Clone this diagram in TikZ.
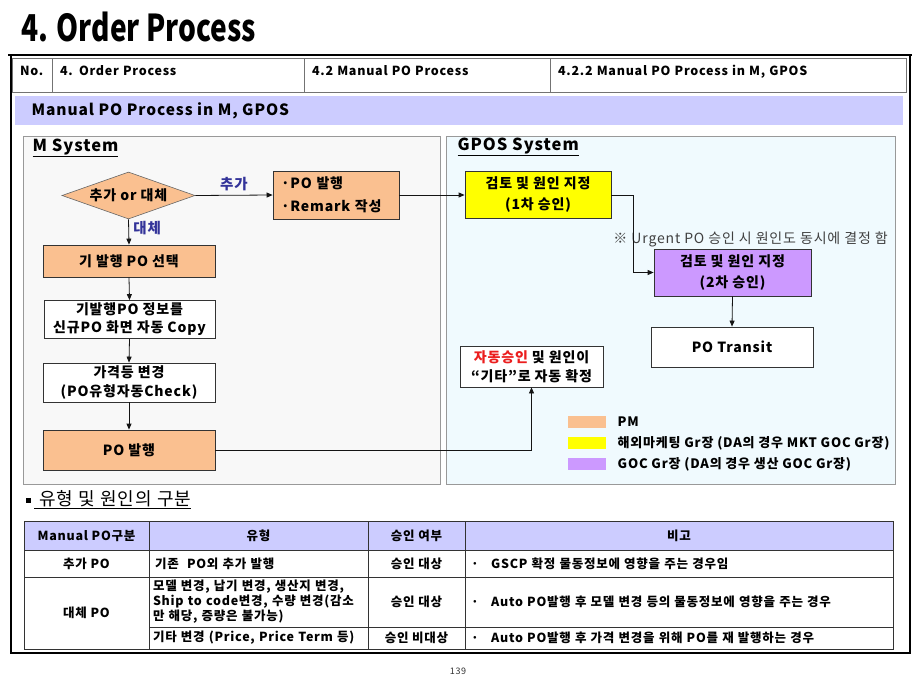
\documentclass[tikz,border=0pt]{standalone}
\usepackage{fontspec}
\setmainfont{Noto Sans CJK KR}[LetterSpace=6]
\newfontfamily\plainfont{Noto Sans CJK KR}
\usepackage{graphicx}
\usepackage{xcolor}
\usepackage{tikz}
\usetikzlibrary{arrows.meta,positioning,shapes.geometric,calc}
\definecolor{figpeach}{RGB}{250,192,144}
\definecolor{figyellow}{RGB}{255,255,0}
\definecolor{figpurple}{RGB}{204,153,255}
\definecolor{figlav}{RGB}{204,204,255}
\definecolor{figmsys}{RGB}{248,248,248}
\definecolor{figgpos}{RGB}{240,250,254}
\definecolor{figblue}{RGB}{51,51,153}
\definecolor{figred}{RGB}{235,30,30}
\definecolor{figline}{RGB}{20,20,20}
\tikzset{
  pmbox/.style={draw=black!80, line width=0.8pt, fill=figpeach, inner sep=2pt, align=center, font=\fontsize{14}{19}\selectfont\bfseries},
  mktbox/.style={draw=black!80, line width=0.8pt, fill=figyellow, inner sep=2pt, align=center, font=\fontsize{14}{21}\selectfont\bfseries},
  gocbox/.style={draw=black!80, line width=0.8pt, fill=figpurple, inner sep=2pt, align=center, font=\fontsize{14}{21}\selectfont\bfseries},
  plainbox/.style={draw=black!80, line width=0.8pt, fill=white, inner sep=2pt, align=center, font=\fontsize{14}{19}\selectfont\bfseries},
  decision/.style={diamond, aspect=2.8, draw=black!60, line width=0.6pt, fill=figpeach, inner sep=0pt, font=\fontsize{14}{16}\selectfont\bfseries},
  panel/.style={draw=black!40, line width=0.8pt},
  hdrcell/.style={draw=black!55, line width=0.9pt, fill=white, inner xsep=8pt, minimum height=34pt, text height=8pt, text depth=6pt, align=left, font=\fontsize{12.5}{15}\selectfont\bfseries},
  tcell/.style={draw=black!80, line width=0.7pt, inner xsep=6pt, inner ysep=0pt, align=center, font=\fontsize{12.5}{15}\selectfont\bfseries},
  swatch/.style={minimum width=38pt, minimum height=12pt, inner sep=0pt},
  flow/.style={-{Triangle[length=6pt,width=5pt]}, draw=figline, line width=0.8pt},
  lbl/.style={font=\fontsize{14.5}{16}\selectfont\bfseries, text=figblue},
  figtitle/.style={font=\fontsize{16.5}{18}\selectfont\bfseries},
  leglabel/.style={font=\fontsize{13}{15}\selectfont\bfseries, anchor=west}
}
\begin{document}
\begin{tikzpicture}[x=1pt,y=-1pt]
  \useasboundingbox[fill=white] (0,0) rectangle (920,690);

  % page title and frame
  \node[anchor=west, inner sep=0pt] (title) at (21,27) {\scalebox{0.76}[1]{\plainfont\fontsize{37}{40}\selectfont\bfseries 4. Order Process}};
  \draw[line width=2.4pt] (11,55) rectangle (910,653);

  % header row
  \node[hdrcell, minimum width=40pt, text width=24pt] (hno) at (32,75) {No.};
  \node[hdrcell, minimum width=252pt, text width=236pt] (hsec) at (178,75) {4. Order Process};
  \node[hdrcell, minimum width=246pt, text width=230pt] (hsub) at (427,75) {4.2 Manual PO Process};
  \node[hdrcell, minimum width=356pt, text width=340pt] (hitem) at (728,75) {4.2.2 Manual PO Process in M, GPOS};
  \draw[line width=2.4pt] (8,55) -- (912,55);

  \node[fill=figlav, minimum width=888pt, minimum height=29pt, inner sep=0pt] (band) at (459,110.5) {};
  \node[anchor=west, font=\fontsize{15.5}{17}\selectfont\bfseries] at (28,110.5) {Manual PO Process in M, GPOS};

  % system panels
  \node[panel, fill=figmsys, minimum width=417pt, minimum height=348pt] (msys) at (231.5,310) {};
  \node[panel, fill=figgpos, minimum width=449pt, minimum height=348pt] (gpos) at (671,310) {};
  \node[figtitle, anchor=west] at (29,148) {\underline{M System}};
  \node[figtitle, anchor=west] at (454,147) {\underline{GPOS System}};

  % M system flow
  \node[decision, minimum width=133pt, minimum height=47pt] (choice) at (128.5,195.5) {추가 or 대체};
  \node[pmbox, minimum height=48pt, text width=110pt, inner xsep=8pt, align=left, font=\fontsize{14}{23}\selectfont\bfseries] (addpo) at (336,195) {·PO 발행\\·Remark 작성};
  \node[pmbox, minimum width=172pt, minimum height=32pt] (selpo) at (129,261) {기 발행 PO 선택};
  \node[plainbox, minimum width=171pt, minimum height=38pt, font=\fontsize{14}{18}\selectfont\bfseries] (copypo) at (129.5,319.5) {기발행PO 정보를\\신규PO 화면 자동 Copy};
  \node[plainbox, minimum width=172pt, minimum height=39pt] (chgpo) at (129,382.5) {가격등 변경\\(PO유형자동Check)};
  \node[pmbox, minimum width=172pt, minimum height=40pt] (issuepo) at (129,450) {PO 발행};

  % GPOS system flow
  \node[mktbox, minimum width=146pt, minimum height=47pt] (review1) at (538,195) {검토 및 원인 지정\\(1차 승인)};
  \node[gocbox, minimum width=157pt, minimum height=47pt] (review2) at (732.5,272.5) {검토 및 원인 지정\\(2차 승인)};
  \node[plainbox, minimum width=162pt, minimum height=40pt] (transit) at (732,347) {PO Transit};
  \node[plainbox, minimum width=143pt, minimum height=41pt] (autook) at (531.5,366.5) {\textcolor{figred}{자동승인} 및 원인이\\“기타”로 자동 확정};
  \node[anchor=east, font=\fontsize{14}{16}\selectfont, text=black!75, inner sep=0pt] (urgent) at (888,239) {※ Urgent PO 승인 시 원인도 동시에 결정 함};

  \draw[flow] (choice.east) -- node[lbl, above=1pt] {추가} (addpo.west);
  \draw[flow] (choice.south) -- node[lbl, right=1pt, pos=0.35] {대체} (selpo.north);
  \draw[flow] (selpo.south) -- (copypo.north);
  \draw[flow] (copypo.south) -- (chgpo.north);
  \draw[flow] (chgpo.south) -- (issuepo.north);
  \draw[flow] (addpo.east) -- (review1.west);
  \draw[flow] (review1.east) -- ++(22,0) |- (review2.west);
  \draw[flow] (review2.south) -- (transit.north);
  \draw[flow] (issuepo.east) -| (autook.south);

  % legend
  \node[swatch, fill=figpeach] (legpm) at (587,422) {};
  \node[swatch, fill=figyellow] (legmkt) at (587,443) {};
  \node[swatch, fill=figpurple] (leggoc) at (587,464) {};
  \node[leglabel, right=8pt of legpm] {PM};
  \node[leglabel, right=8pt of legmkt] {해외마케팅 Gr장 (DA의 경우 MKT GOC Gr장)};
  \node[leglabel, right=8pt of leggoc] {GOC Gr장 (DA의 경우 생산 GOC Gr장)};

  % type table
  \node[anchor=west, inner sep=0pt, font=\fontsize{18}{20}\selectfont] (tabtitle) at (26,500) {\rule[0.3ex]{5pt}{5pt}\,\underline{ 유형 및 원인의 구분}};

  \node[tcell, fill=figlav, minimum width=125pt, minimum height=29pt] (h1) at (86.5,535.5) {Manual PO구분};
  \node[tcell, fill=figlav, minimum width=219pt, minimum height=29pt] (h2) at (258.5,535.5) {유형};
  \node[tcell, fill=figlav, minimum width=97pt, minimum height=29pt] (h3) at (416.5,535.5) {승인 여부};
  \node[tcell, fill=figlav, minimum width=428pt, minimum height=29pt] (h4) at (679,535.5) {비고};

  \node[tcell, minimum width=125pt, minimum height=27pt] (r1c1) at (86.5,563.5) {추가 PO};
  \node[tcell, text width=207pt, align=left, minimum height=27pt] (r1c2) at (258.5,563.5) {기존 \ PO외 추가 발행};
  \node[tcell, minimum width=97pt, minimum height=27pt] (r1c3) at (416.5,563.5) {승인 대상};
  \node[tcell, text width=416pt, align=left, minimum height=27pt] (r1c4) at (679,563.5) {· \ \ GSCP 확정 물동정보에 영향을 주는 경우임};

  \node[tcell, minimum width=125pt, minimum height=72pt] (r2c1) at (86.5,613) {대체 PO};
  \node[tcell, text width=211pt, inner xsep=4pt, align=left, minimum height=50pt] (r2c2) at (258.5,602) {모델 변경, 납기 변경, 생산지 변경,\\Ship to code변경, 수량 변경(감소\\만 해당, 증량은 불가능)};
  \node[tcell, minimum width=97pt, minimum height=50pt] (r2c3) at (416.5,602) {승인 대상};
  \node[tcell, text width=416pt, align=left, minimum height=50pt] (r2c4) at (679,602) {· \ \ Auto PO발행 후 모델 변경 등의 물동정보에 영향을 주는 경우};

  \node[tcell, text width=211pt, inner xsep=4pt, align=left, minimum height=22pt] (r3c2) at (258.5,638) {기타 변경 (Price, Price Term 등)};
  \node[tcell, minimum width=97pt, minimum height=22pt] (r3c3) at (416.5,638) {승인 비대상};
  \node[tcell, text width=416pt, align=left, minimum height=22pt] (r3c4) at (679,638) {· \ \ Auto PO발행 후 가격 변경을 위해 PO를 재 발행하는 경우};

  \node[font=\fontsize{9}{11}\selectfont, text=black!80] (pageno) at (458,671) {139};
\end{tikzpicture}
\end{document}
